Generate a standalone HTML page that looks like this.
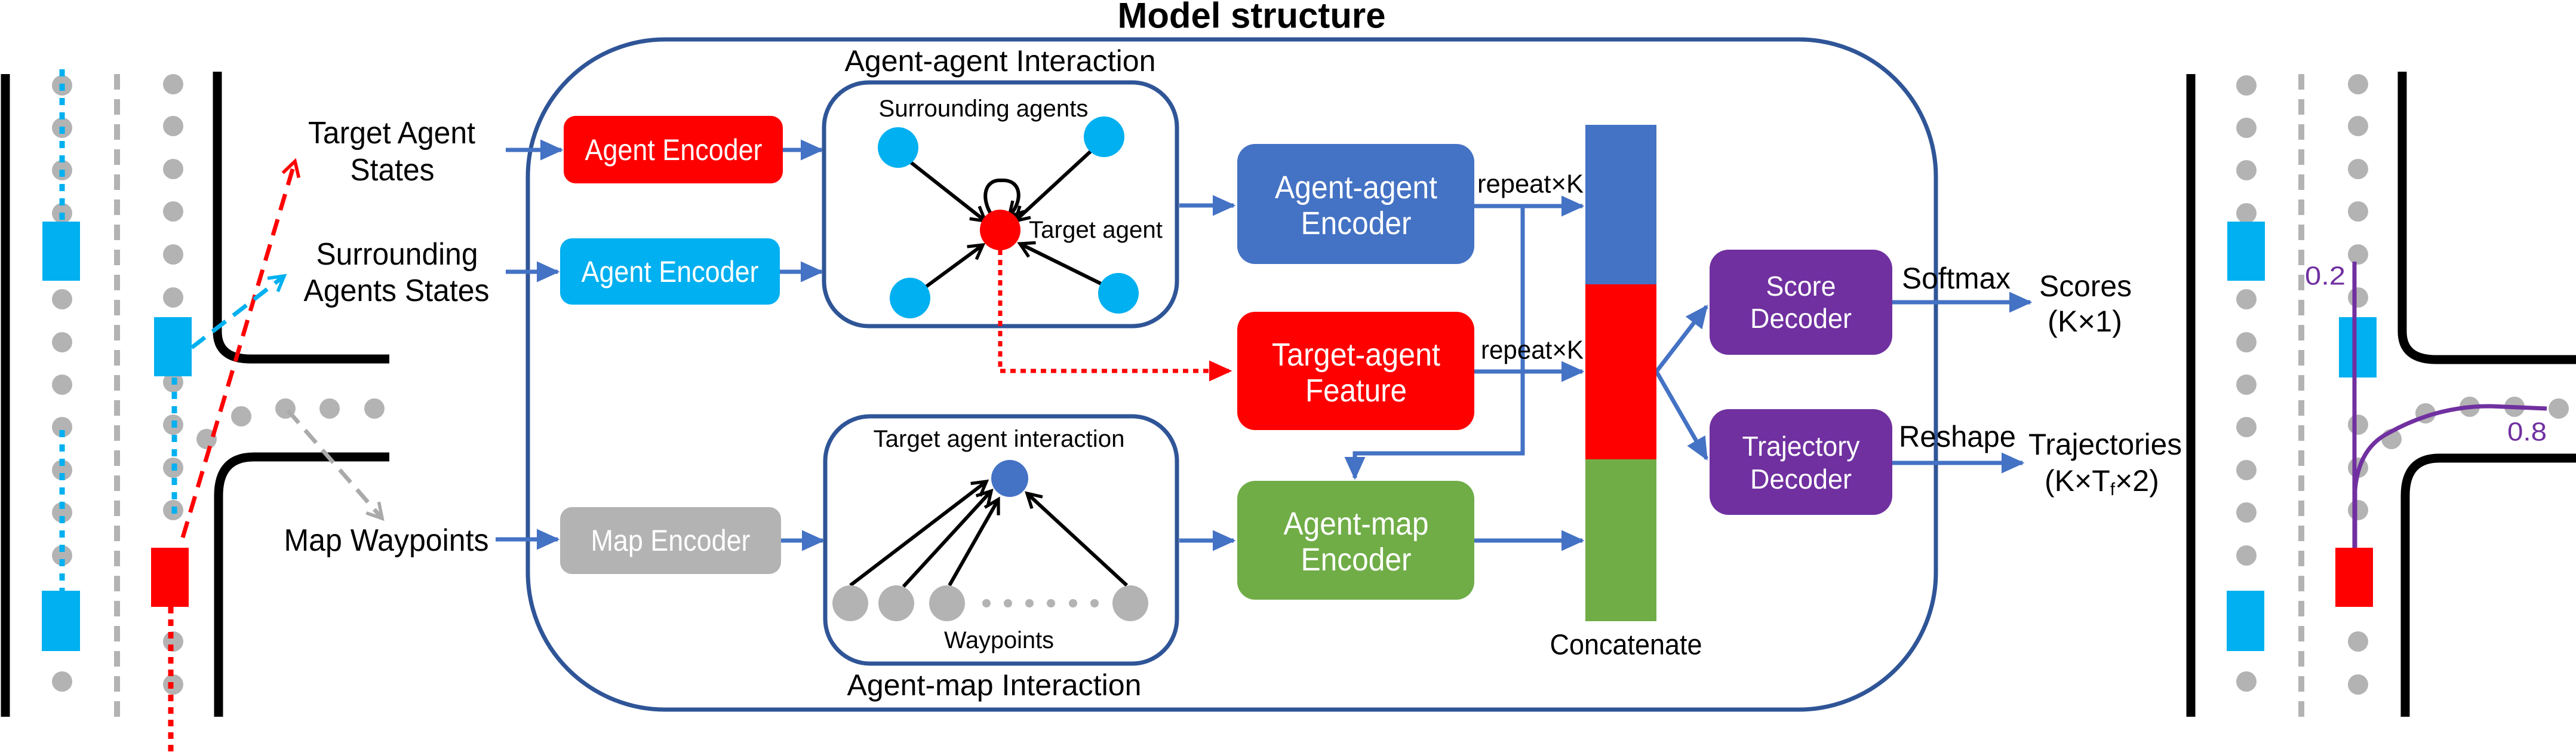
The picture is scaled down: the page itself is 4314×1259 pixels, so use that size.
<!DOCTYPE html>
<html><head><meta charset="utf-8"><style>
html,body{margin:0;padding:0;background:#fff}
svg{display:block}
text{font-family:"Liberation Sans Narrow","Liberation Sans",sans-serif;fill:#000}
</style></head><body>
<svg width="4314" height="1259" viewBox="0 0 4314 1259" xmlns="http://www.w3.org/2000/svg">
<defs>
<marker id="bl" markerWidth="6" markerHeight="6" refX="5" refY="3" orient="auto" markerUnits="strokeWidth"><path d="M0,0.5 L5.5,3 L0,5.5 z" fill="#4472c4"/></marker>
<marker id="rd" markerWidth="6" markerHeight="6" refX="5" refY="3" orient="auto" markerUnits="strokeWidth"><path d="M0,0.5 L5.5,3 L0,5.5 z" fill="#ff0000"/></marker>
<marker id="ch" markerWidth="5.5" markerHeight="5.5" refX="8" refY="5" orient="auto" markerUnits="strokeWidth" viewBox="0 0 10 10"><path d="M1,1 L8,5 L1,9" fill="none" stroke="#000" stroke-width="1.6"/></marker>
<marker id="chr" markerWidth="5" markerHeight="5" refX="8" refY="5" orient="auto" markerUnits="strokeWidth" viewBox="0 0 10 10"><path d="M1,1 L8,5 L1,9" fill="none" stroke="#ff0000" stroke-width="1.6"/></marker>
<marker id="chb" markerWidth="5" markerHeight="5" refX="8" refY="5" orient="auto" markerUnits="strokeWidth" viewBox="0 0 10 10"><path d="M1,1 L8,5 L1,9" fill="none" stroke="#00b0f0" stroke-width="1.6"/></marker>
<marker id="chg" markerWidth="5" markerHeight="5" refX="8" refY="5" orient="auto" markerUnits="strokeWidth" viewBox="0 0 10 10"><path d="M1,1 L8,5 L1,9" fill="none" stroke="#aaaaaa" stroke-width="1.6"/></marker>
</defs>

<!-- LEFT SCENE -->
<g fill="#b3b3b3">
<circle cx="104" cy="143" r="17"/><circle cx="104" cy="214" r="17"/><circle cx="104" cy="285" r="17"/><circle cx="104" cy="357" r="17"/><circle cx="104" cy="501" r="17"/><circle cx="104" cy="573" r="17"/><circle cx="104" cy="644" r="17"/><circle cx="104" cy="715" r="17"/><circle cx="104" cy="787" r="17"/><circle cx="104" cy="858" r="17"/><circle cx="104" cy="930" r="17"/><circle cx="104" cy="1141" r="17"/>
<circle cx="290" cy="141" r="17"/><circle cx="290" cy="211" r="17"/><circle cx="290" cy="283" r="17"/><circle cx="290" cy="354" r="17"/><circle cx="290" cy="426" r="17"/><circle cx="290" cy="498" r="17"/><circle cx="290" cy="640" r="17"/><circle cx="290" cy="711" r="17"/><circle cx="290" cy="783" r="17"/><circle cx="290" cy="854" r="17"/><circle cx="290" cy="1074" r="17"/><circle cx="290" cy="1146" r="17"/>
<circle cx="346" cy="735" r="17"/><circle cx="404" cy="697" r="17"/><circle cx="478" cy="684" r="17"/><circle cx="552" cy="684" r="17"/><circle cx="627" cy="684" r="17"/>
</g>
<line x1="9" y1="124" x2="9" y2="1200" stroke="#000" stroke-width="15"/>
<line x1="196" y1="124" x2="196" y2="1200" stroke="#b3b3b3" stroke-width="10" stroke-dasharray="26 16"/>
<path d="M364,120 L364,555 Q364,601 420,601 L652,601" fill="none" stroke="#000" stroke-width="15"/>
<path d="M652,765 L425,765 Q366,765 366,830 L366,1200" fill="none" stroke="#000" stroke-width="15"/>
<line x1="104" y1="116" x2="104" y2="371" stroke="#00b0f0" stroke-width="9" stroke-dasharray="12 12"/>
<line x1="104" y1="720" x2="104" y2="989" stroke="#00b0f0" stroke-width="9" stroke-dasharray="12 12"/>
<line x1="292" y1="632" x2="292" y2="865" stroke="#00b0f0" stroke-width="9" stroke-dasharray="12 12"/>
<line x1="286" y1="1016" x2="286" y2="1259" stroke="#ff0000" stroke-width="9" stroke-dasharray="11 10"/>
<rect x="71" y="371" width="63" height="99" fill="#00b0f0"/>
<rect x="258" y="531" width="63" height="99" fill="#00b0f0"/>
<rect x="70" y="989" width="64" height="101" fill="#00b0f0"/>
<rect x="253" y="917" width="63" height="99" fill="#ff0000"/>
<line x1="306" y1="900" x2="494" y2="270" stroke="#ff0000" stroke-width="7" stroke-dasharray="28 16" marker-end="url(#chr)"/>
<line x1="321" y1="582" x2="476" y2="462" stroke="#00b0f0" stroke-width="7" stroke-dasharray="28 16" marker-end="url(#chb)"/>
<line x1="482" y1="687" x2="640" y2="868" stroke="#aaaaaa" stroke-width="7" stroke-dasharray="28 16" marker-end="url(#chg)"/>

<g font-size="52" text-anchor="middle" dominant-baseline="central">
<text x="656" y="223" textLength="280" lengthAdjust="spacingAndGlyphs">Target Agent</text>
<text x="657" y="285" textLength="141" lengthAdjust="spacingAndGlyphs">States</text>
<text x="665" y="426" textLength="271" lengthAdjust="spacingAndGlyphs">Surrounding</text>
<text x="664" y="487" textLength="311" lengthAdjust="spacingAndGlyphs">Agents States</text>
<text x="647" y="905" textLength="343" lengthAdjust="spacingAndGlyphs">Map Waypoints</text>
</g>

<!-- MODEL STRUCTURE -->
<text x="2096" y="26" font-size="60" font-weight="bold" text-anchor="middle" dominant-baseline="central" textLength="449" lengthAdjust="spacingAndGlyphs">Model structure</text>
<rect x="884" y="66" width="2358" height="1122" rx="230" ry="230" fill="none" stroke="#2f5597" stroke-width="7"/>

<g stroke="#4472c4" stroke-width="7" fill="none">
<line x1="847" y1="251" x2="940" y2="251" marker-end="url(#bl)"/>
<line x1="847" y1="455" x2="934" y2="455" marker-end="url(#bl)"/>
<line x1="830" y1="903" x2="934" y2="903" marker-end="url(#bl)"/>
<line x1="1311" y1="251" x2="1376" y2="251" marker-end="url(#bl)"/>
<line x1="1306" y1="455" x2="1376" y2="455" marker-end="url(#bl)"/>
<line x1="1308" y1="905" x2="1378" y2="905" marker-end="url(#bl)"/>
<line x1="1975" y1="344" x2="2066" y2="344" marker-end="url(#bl)"/>
<line x1="1975" y1="905" x2="2066" y2="905" marker-end="url(#bl)"/>
<line x1="2469" y1="345" x2="2650" y2="345" marker-end="url(#bl)"/>
<line x1="2469" y1="622" x2="2650" y2="622" marker-end="url(#bl)"/>
<line x1="2469" y1="905" x2="2650" y2="905" marker-end="url(#bl)"/>
<polyline points="2550,345 2550,759 2269,759 2269,800" marker-end="url(#bl)"/>
<line x1="2774" y1="622" x2="2858" y2="513" marker-end="url(#bl)"/>
<line x1="2774" y1="622" x2="2858" y2="768" marker-end="url(#bl)"/>
<line x1="3169" y1="506" x2="3400" y2="506" marker-end="url(#bl)"/>
<line x1="3169" y1="775" x2="3387" y2="775" marker-end="url(#bl)"/>
</g>

<rect x="944" y="194" width="367" height="113" rx="20" fill="#ff0000"/>
<rect x="938" y="399" width="368" height="111" rx="20" fill="#00b0f0"/>
<rect x="938" y="849" width="370" height="112" rx="20" fill="#b3b3b3"/>
<g font-size="50" text-anchor="middle" dominant-baseline="central">
<text x="1128" y="251" textLength="297" lengthAdjust="spacingAndGlyphs" style="fill:#fff">Agent Encoder</text>
<text x="1122" y="455" textLength="297" lengthAdjust="spacingAndGlyphs" style="fill:#fff">Agent Encoder</text>
<text x="1123" y="905" textLength="267" lengthAdjust="spacingAndGlyphs" style="fill:#fff">Map Encoder</text>
</g>

<!-- AA interaction box -->
<text x="1675" y="102" font-size="50" text-anchor="middle" dominant-baseline="central" textLength="521" lengthAdjust="spacingAndGlyphs">Agent-agent Interaction</text>
<rect x="1380" y="138" width="591" height="408" rx="75" fill="none" stroke="#2f5597" stroke-width="7"/>
<text x="1647" y="182" font-size="40" text-anchor="middle" dominant-baseline="central" textLength="351" lengthAdjust="spacingAndGlyphs">Surrounding agents</text>
<line x1="1675" y1="418" x2="1675" y2="621" stroke="#ff0000" stroke-width="7" stroke-dasharray="9 8"/>
<line x1="1675" y1="621" x2="2060" y2="621" stroke="#ff0000" stroke-width="7" stroke-dasharray="9 8" marker-end="url(#rd)"/>
<g stroke="#000" stroke-width="6" fill="none">
<line x1="1523" y1="270" x2="1650" y2="370" marker-end="url(#ch)"/>
<line x1="1828" y1="252" x2="1700" y2="370" marker-end="url(#ch)"/>
<line x1="1548" y1="482" x2="1646" y2="410" marker-end="url(#ch)"/>
<line x1="1850" y1="478" x2="1708" y2="408" marker-end="url(#ch)"/>
<path d="M1663,364 C1640,330 1650,300 1677,302 C1710,300 1715,335 1690,362" marker-end="url(#ch)"/>
</g>
<g fill="#00b0f0">
<circle cx="1504" cy="247" r="34"/><circle cx="1849" cy="229" r="34"/><circle cx="1524" cy="499" r="34"/><circle cx="1873" cy="491" r="34"/>
</g>
<circle cx="1675" cy="385" r="34" fill="#ff0000"/>
<text x="1723" y="385" font-size="40" dominant-baseline="central" textLength="224" lengthAdjust="spacingAndGlyphs">Target agent</text>

<!-- AM interaction box -->
<rect x="1382" y="697" width="589" height="414" rx="75" fill="none" stroke="#2f5597" stroke-width="7"/>
<text x="1673" y="735" font-size="40" text-anchor="middle" dominant-baseline="central" textLength="421" lengthAdjust="spacingAndGlyphs">Target agent interaction</text>
<g stroke="#000" stroke-width="6" fill="none">
<line x1="1424" y1="980" x2="1652" y2="806" marker-end="url(#ch)"/>
<line x1="1513" y1="982" x2="1660" y2="822" marker-end="url(#ch)"/>
<line x1="1590" y1="980" x2="1672" y2="836" marker-end="url(#ch)"/>
<line x1="1887" y1="980" x2="1720" y2="826" marker-end="url(#ch)"/>
</g>
<circle cx="1691" cy="801" r="31" fill="#4472c4"/>
<g fill="#b3b3b3">
<circle cx="1424" cy="1010" r="30"/><circle cx="1501" cy="1010" r="30"/><circle cx="1586" cy="1010" r="30"/><circle cx="1893" cy="1010" r="30"/>
<circle cx="1652" cy="1010" r="7"/><circle cx="1688" cy="1010" r="7"/><circle cx="1724" cy="1010" r="7"/><circle cx="1760" cy="1010" r="7"/><circle cx="1797" cy="1010" r="7"/><circle cx="1833" cy="1010" r="7"/>
</g>
<text x="1673" y="1072" font-size="40" text-anchor="middle" dominant-baseline="central" textLength="184" lengthAdjust="spacingAndGlyphs">Waypoints</text>
<text x="1665" y="1147" font-size="50" text-anchor="middle" dominant-baseline="central" textLength="493" lengthAdjust="spacingAndGlyphs">Agent-map Interaction</text>

<!-- encoders -->
<rect x="2072" y="241" width="397" height="201" rx="30" fill="#4472c4"/>
<rect x="2072" y="522" width="397" height="198" rx="30" fill="#ff0000"/>
<rect x="2072" y="805" width="397" height="199" rx="30" fill="#70ad47"/>
<g font-size="54" text-anchor="middle" dominant-baseline="central">
<text x="2271" y="314" textLength="272" lengthAdjust="spacingAndGlyphs" style="fill:#fff">Agent-agent</text>
<text x="2271" y="374" textLength="185" lengthAdjust="spacingAndGlyphs" style="fill:#fff">Encoder</text>
<text x="2271" y="594" textLength="282" lengthAdjust="spacingAndGlyphs" style="fill:#fff">Target-agent</text>
<text x="2271" y="654" textLength="170" lengthAdjust="spacingAndGlyphs" style="fill:#fff">Feature</text>
<text x="2271" y="877" textLength="243" lengthAdjust="spacingAndGlyphs" style="fill:#fff">Agent-map</text>
<text x="2271" y="937" textLength="185" lengthAdjust="spacingAndGlyphs" style="fill:#fff">Encoder</text>
</g>

<!-- concat bar -->
<rect x="2655" y="209" width="119" height="267" fill="#4472c4"/>
<rect x="2655" y="476" width="119" height="293" fill="#ff0000"/>
<rect x="2655" y="769" width="119" height="271" fill="#70ad47"/>
<text x="2723" y="1080" font-size="48" text-anchor="middle" dominant-baseline="central" textLength="255" lengthAdjust="spacingAndGlyphs">Concatenate</text>
<g font-size="44" dominant-baseline="central">
<text x="2474" y="308" textLength="178" lengthAdjust="spacingAndGlyphs">repeat×K</text>
<text x="2480" y="586" textLength="172" lengthAdjust="spacingAndGlyphs">repeat×K</text>
</g>

<!-- decoders -->
<rect x="2863" y="418" width="306" height="176" rx="32" fill="#7030a0"/>
<rect x="2863" y="685" width="306" height="177" rx="32" fill="#7030a0"/>
<g font-size="46" text-anchor="middle" dominant-baseline="central">
<text x="3016" y="479" textLength="117" lengthAdjust="spacingAndGlyphs" style="fill:#fff">Score</text>
<text x="3016" y="533" textLength="170" lengthAdjust="spacingAndGlyphs" style="fill:#fff">Decoder</text>
<text x="3016" y="747" textLength="197" lengthAdjust="spacingAndGlyphs" style="fill:#fff">Trajectory</text>
<text x="3016" y="802" textLength="170" lengthAdjust="spacingAndGlyphs" style="fill:#fff">Decoder</text>
</g>
<g font-size="50" dominant-baseline="central">
<text x="3185" y="466" textLength="182" lengthAdjust="spacingAndGlyphs">Softmax</text>
<text x="3180" y="731" textLength="196" lengthAdjust="spacingAndGlyphs">Reshape</text>
<text x="3415" y="479" textLength="155" lengthAdjust="spacingAndGlyphs">Scores</text>
<text x="3429" y="538" textLength="125" lengthAdjust="spacingAndGlyphs">(K×1)</text>
<text x="3397" y="744" textLength="257" lengthAdjust="spacingAndGlyphs">Trajectories</text>
<text x="3424" y="805">(K×T<tspan font-size="30" dy="14">f</tspan><tspan dy="-14">×2)</tspan></text>
</g>

<!-- RIGHT SCENE -->
<g fill="#b3b3b3">
<circle cx="3762" cy="143" r="17"/><circle cx="3762" cy="214" r="17"/><circle cx="3762" cy="285" r="17"/><circle cx="3762" cy="357" r="17"/><circle cx="3762" cy="501" r="17"/><circle cx="3762" cy="573" r="17"/><circle cx="3762" cy="644" r="17"/><circle cx="3762" cy="715" r="17"/><circle cx="3762" cy="787" r="17"/><circle cx="3762" cy="858" r="17"/><circle cx="3762" cy="930" r="17"/><circle cx="3762" cy="1141" r="17"/>
<circle cx="3949" cy="141" r="17"/><circle cx="3949" cy="211" r="17"/><circle cx="3949" cy="283" r="17"/><circle cx="3949" cy="354" r="17"/><circle cx="3949" cy="426" r="17"/><circle cx="3949" cy="498" r="17"/><circle cx="3949" cy="711" r="17"/><circle cx="3949" cy="783" r="17"/><circle cx="3949" cy="854" r="17"/><circle cx="3949" cy="1074" r="17"/><circle cx="3949" cy="1146" r="17"/>
<circle cx="4005" cy="735" r="17"/><circle cx="4062" cy="692" r="17"/><circle cx="4136" cy="681" r="17"/><circle cx="4211" cy="681" r="17"/><circle cx="4285" cy="684" r="17"/>
</g>
<line x1="3669" y1="124" x2="3669" y2="1200" stroke="#000" stroke-width="15"/>
<line x1="3854" y1="124" x2="3854" y2="1200" stroke="#b3b3b3" stroke-width="10" stroke-dasharray="26 16"/>
<path d="M4023,120 L4023,555 Q4023,602 4080,602 L4314,602" fill="none" stroke="#000" stroke-width="15"/>
<path d="M4314,767 L4085,767 Q4028,767 4028,830 L4028,1200" fill="none" stroke="#000" stroke-width="15"/>
<rect x="3730" y="371" width="63" height="99" fill="#00b0f0"/>
<rect x="3917" y="531" width="63" height="101" fill="#00b0f0"/>
<rect x="3729" y="989" width="63" height="101" fill="#00b0f0"/>
<rect x="3911" y="917" width="63" height="99" fill="#ff0000"/>
<line x1="3943" y1="438" x2="3943" y2="917" stroke="#7030a0" stroke-width="7"/>
<path d="M3944,917 L3944,820 Q3950,750 4000,725 Q4080,680 4170,680 L4265,684" fill="none" stroke="#7030a0" stroke-width="7"/>
<g font-size="44" dominant-baseline="central">
<text x="3860" y="462" style="fill:#7030a0" textLength="68" lengthAdjust="spacingAndGlyphs">0.2</text>
<text x="4199" y="723" style="fill:#7030a0" textLength="66" lengthAdjust="spacingAndGlyphs">0.8</text>
</g>
</svg>
</body></html>
